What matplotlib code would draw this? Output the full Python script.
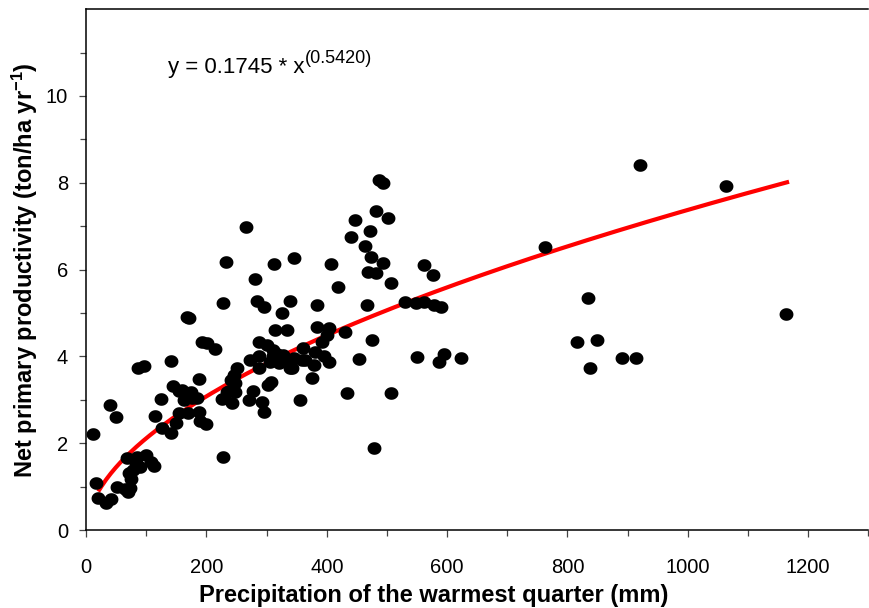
import matplotlib
matplotlib.use("Agg")
import matplotlib.pyplot as plt
import numpy as np

plt.rcParams['font.family'] = ['Liberation Sans', 'DejaVu Sans']
plt.rcParams['mathtext.fontset'] = 'custom'
plt.rcParams['mathtext.rm'] = 'Liberation Sans'
plt.rcParams['mathtext.bf'] = 'Liberation Sans:bold'
plt.rcParams['mathtext.it'] = 'Liberation Sans:italic'

# precipitation of the warmest quarter (mm)
precip = [
    12, 16, 19, 33, 42, 40, 49, 52, 64, 70, 75, 78, 68, 72, 84, 83, 89, 100, 108, 112, 87, 96, 73,
    115, 125, 126, 141, 141, 145, 149, 154, 155, 159, 162, 167, 171, 170, 175, 176, 184, 188, 188,
    190, 192, 201, 200, 215,
    228, 226, 228, 234, 242, 245, 248, 251, 248, 233, 266, 281, 270, 273, 278, 284, 287, 287, 287,
    295, 292, 295, 300, 303, 307, 240, 238,
    313, 314, 311, 320, 325, 328, 334, 339, 339, 345, 345, 356, 361, 359, 375, 378, 381, 383, 383,
    392, 400, 403, 403, 407, 418, 311, 306, 342, 395, 364, 318, 330,
    431, 434, 440, 447, 453, 464, 467, 469, 471, 473, 475, 478, 481, 482, 486, 494, 494, 502, 506, 507,
    530, 548, 550, 561, 562, 576, 578, 590, 586, 594, 623,
    763, 816, 835, 837, 849, 890, 914, 921, 1063, 1164,
]
# net primary productivity (ton/ha/yr)
npp = [
    2.22, 1.08, 0.74, 0.62, 0.72, 2.89, 2.61, 1.00, 0.95, 0.89, 1.18, 1.39, 1.66, 1.32, 1.69, 1.55, 1.46, 1.73, 1.58, 1.48, 3.73, 3.79, 0.97,
    2.64, 3.02, 2.35, 2.23, 3.90, 3.32, 2.46, 2.69, 3.20, 3.23, 3.00, 4.90, 4.88, 2.69, 3.19, 3.05, 3.04, 2.73, 3.48,
    2.52, 4.34, 4.30, 2.45, 4.17,
    5.23, 3.02, 1.68, 3.19, 2.92, 3.58, 3.38, 3.73, 3.19, 6.17, 6.99, 5.78, 3.00, 3.92, 3.21, 5.28, 4.34, 3.73, 4.00,
    5.15, 2.96, 2.73, 4.27, 3.35, 3.42, 3.45, 3.20,
    6.13, 4.61, 4.00, 3.84, 5.00, 4.04, 4.61, 5.28, 3.73, 3.96, 6.26, 3.00, 4.19, 3.92, 3.50, 3.81, 4.11, 5.19, 4.69,
    4.34, 4.50, 4.65, 3.88, 6.13, 5.61, 4.15, 3.88, 3.73, 4.00, 3.92, 4.05, 3.95,
    4.57, 3.15, 6.75, 7.14, 3.94, 6.55, 5.19, 5.95, 6.90, 6.30, 4.38, 1.89, 5.92, 7.35, 8.07, 8.00, 6.16, 7.18, 3.17, 5.70,
    5.25, 5.23, 3.98, 6.11, 5.26, 5.88, 5.18, 5.13, 3.88, 4.05, 3.96,
    6.53, 4.34, 5.34, 3.74, 4.38, 3.96, 3.96, 8.41, 7.93, 4.97,
]

# power fit y = a * x^b
fit_a = 0.1745
fit_b = 0.5420
fit_range = (22, 1165)

fig = plt.figure(figsize=(8.7, 6.08), dpi=100)
ax = fig.add_axes([0.099, 0.128, 0.899, 0.857])

# slightly wide ellipse marker, like the original
t = np.linspace(0, 2 * np.pi, 40)
ellipse = np.column_stack([1.1 * np.cos(t), np.sin(t)])
ax.scatter(precip, npp, s=10 ** 2, marker=ellipse, color='black', linewidths=0, zorder=3)

xf = np.linspace(fit_range[0], fit_range[1], 300)
ax.plot(xf, fit_a * xf ** fit_b, color='red', lw=3, zorder=2)

# equation, exponent drawn as its own smaller text
ax.text(136, 10.54, 'y = 0.1745 * x', fontsize=16, va='baseline', ha='left')
ax.text(364, 10.75, '(0.5420)', fontsize=13, va='baseline', ha='left')

ax.set_xlim(0, 1300)
ax.set_ylim(0, 12)
ax.set_xticks(np.arange(0, 1201, 200))
ax.set_xticks(np.arange(100, 1301, 200), minor=True)
ax.set_yticks(np.arange(0, 11, 2))
ax.set_yticks(np.arange(1, 12, 2), minor=True)

ax.spines['right'].set_visible(False)
for s in ['top', 'left', 'bottom']:
    ax.spines[s].set_linewidth(1.1)

ax.tick_params(which='major', length=5, width=0.9, labelsize=14.5, color='#444444')
ax.tick_params(which='minor', length=4, width=0.9, color='#444444')
ax.tick_params(axis='x', which='major', pad=15)
ax.tick_params(axis='y', which='major', pad=8)

ax.set_xlabel('Precipitation of the warmest quarter (mm)', fontsize=17, fontweight='bold', labelpad=5)
ax.xaxis.label.set_x(0.445)
ax.set_ylabel('Net primary productivity (ton/ha yr$^{\\mathbf{-1}}$)', fontsize=17,
              fontweight='bold', labelpad=4)

fig.savefig('out.png', dpi=100)
